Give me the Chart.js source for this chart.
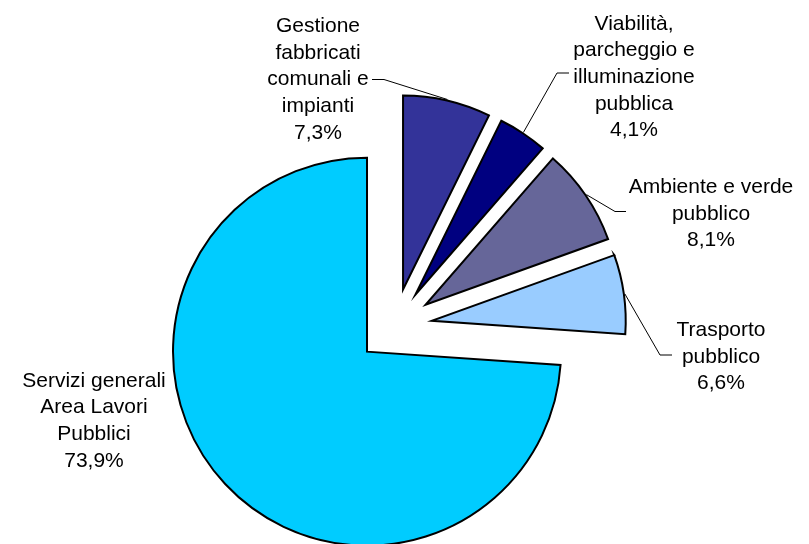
<!DOCTYPE html>
<html><head><meta charset="utf-8">
<script src="https://cdn.jsdelivr.net/npm/chart.js@4"></script>
<style>html,body{margin:0;padding:0;background:#fff}canvas{display:block}</style>
</head><body>
<canvas id="c" width="809" height="544"></canvas>
<script>
const categories = [
  "Gestione fabbricati comunali e impianti",
  "Viabilità, parcheggio e illuminazione pubblica",
  "Ambiente e verde pubblico",
  "Trasporto pubblico",
  "Servizi generali Area Lavori Pubblici"
];
const labelLines = [
  ["Gestione", "fabbricati", "comunali e", "impianti"],
  ["Viabilità,", "parcheggio e", "illuminazione", "pubblica"],
  ["Ambiente e verde", "pubblico"],
  ["Trasporto", "pubblico"],
  ["Servizi generali", "Area Lavori", "Pubblici"]
];
const shares = [7.3, 4.1, 8.1, 6.6, 73.9];
const colors = ["#333399", "#000080", "#666699", "#99CCFF", "#00CCFF"];

// layout / style settings
const EXPLODE = 37.6;
const FONT = '21px "Liberation Sans", Arial, sans-serif';
const LINE_H = 26.7;
const labelLayout = [
  {cx: 318, y: 32, leader: [[384, 79.5], [372, 79.5]]},
  {cx: 634, y: 29.5, leader: [[557, 73], [569, 73]]},
  {cx: 711, y: 193, leader: [[615, 211.5], [626, 211.5]]},
  {cx: 721, y: 336, leader: [[660, 355], [672, 355]]},
  {cx: 94, y: 386.7, leader: null}
];

const explodePlugin = {
  id: 'explode',
  afterDatasetUpdate(chart, args) {
    const meta = chart.getDatasetMeta(args.index);
    meta.data.forEach(arc => {
      const mid = (arc.startAngle + arc.endAngle) / 2;
      arc.x += Math.cos(mid) * EXPLODE;
      arc.y += Math.sin(mid) * EXPLODE;
    });
  }
};

const labelPlugin = {
  id: 'pieLabels',
  afterDraw(chart) {
    const ctx = chart.ctx;
    const meta = chart.getDatasetMeta(0);
    ctx.save();
    ctx.strokeStyle = '#000';
    ctx.lineWidth = 1;
    meta.data.forEach((arc, i) => {
      const L = labelLayout[i];
      if (L.leader) {
        const mid = (arc.startAngle + arc.endAngle) / 2;
        const R = arc.outerRadius + 1;
        ctx.beginPath();
        ctx.moveTo(arc.x + Math.cos(mid) * R, arc.y + Math.sin(mid) * R);
        L.leader.forEach(p => ctx.lineTo(p[0], p[1]));
        ctx.stroke();
      }
    });
    ctx.fillStyle = '#000';
    ctx.font = FONT;
    ctx.textAlign = 'center';
    ctx.textBaseline = 'alphabetic';
    shares.forEach((v, i) => {
      const L = labelLayout[i];
      const lines = labelLines[i].concat([v.toFixed(1).replace('.', ',') + '%']);
      lines.forEach((t, k) => ctx.fillText(t, L.cx, L.y + k * LINE_H));
    });
    ctx.restore();
  }
};

new Chart(document.getElementById('c').getContext('2d'), {
  type: 'pie',
  data: {
    labels: categories,
    datasets: [{
      data: shares,
      backgroundColor: colors,
      borderColor: '#000',
      borderWidth: 2,
      borderJoinStyle: 'miter'
    }]
  },
  options: {
    responsive: false,
    animation: false,
    radius: 194,
    events: [],
    layout: {padding: {left: 0, right: 20, top: 108, bottom: 0}},
    plugins: {legend: {display: false}, tooltip: {enabled: false}}
  },
  plugins: [explodePlugin, labelPlugin]
});
</script>
</body></html>
